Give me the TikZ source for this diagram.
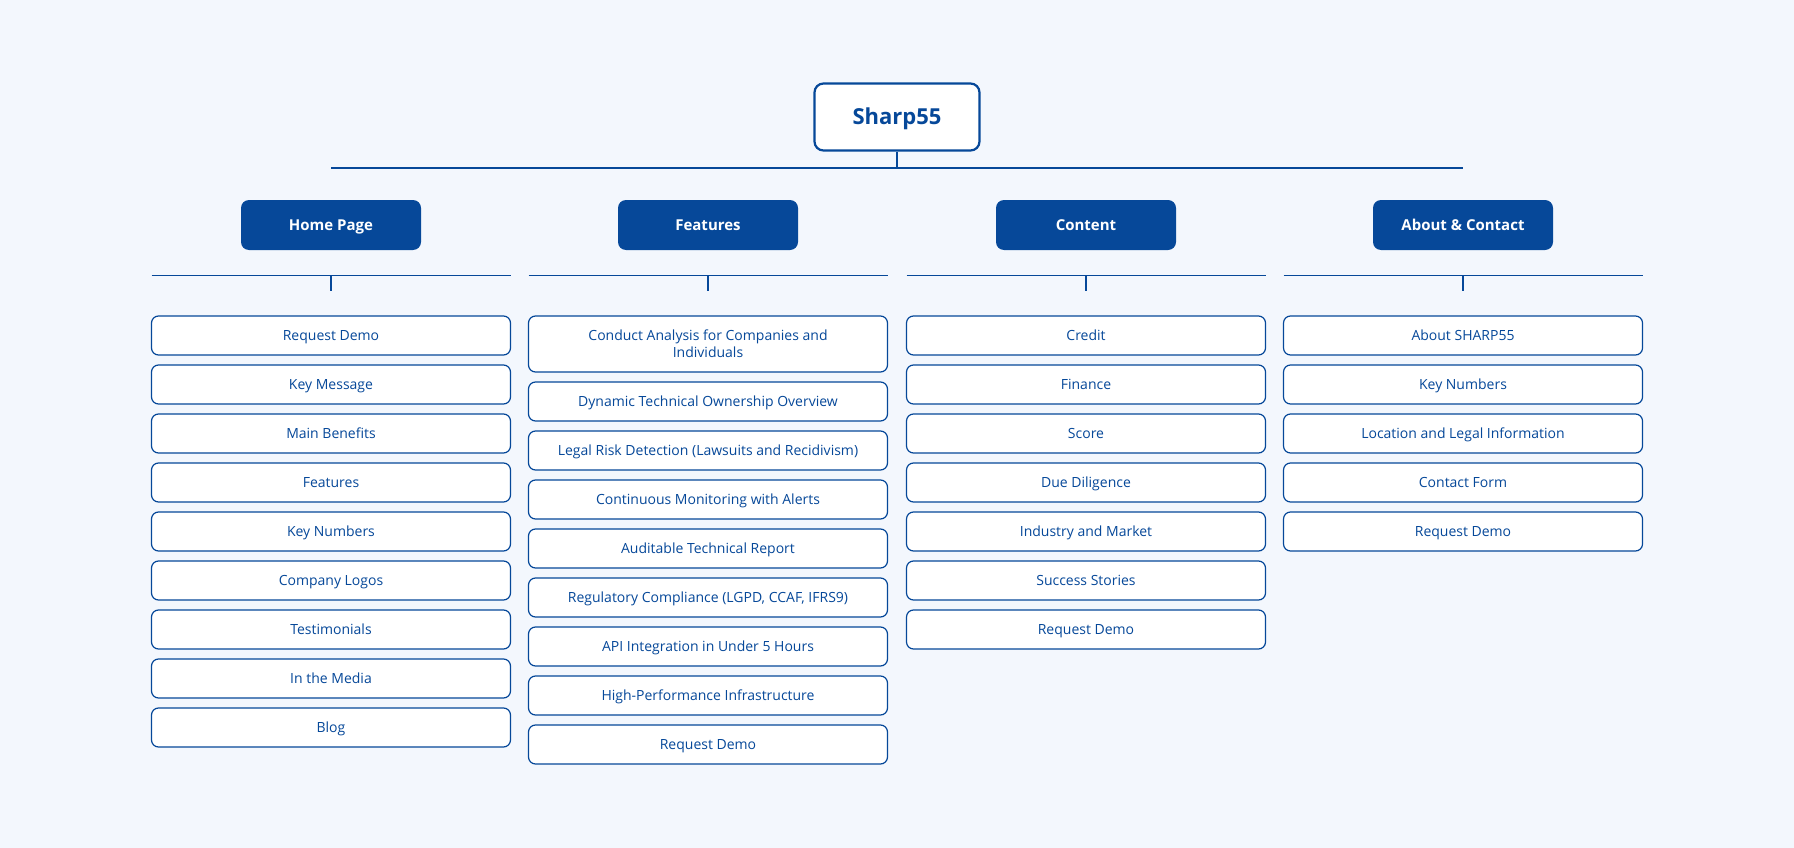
\documentclass[tikz,border=0pt]{standalone}
\usepackage{fontspec}
\setmainfont{Open Sans}
\usetikzlibrary{positioning}

\definecolor{navy}{HTML}{064899}
\definecolor{pagebg}{HTML}{F3F7FD}

\begin{document}
\begin{tikzpicture}[x=1pt,y=-1pt,node distance=10pt,
  root/.style={draw=navy,line width=2.2pt,fill=white,rounded corners=9pt,minimum width=165pt,minimum height=67pt,text height=16pt,text depth=0pt,font=\fontsize{22}{26}\selectfont\bfseries,text=navy},
  section/.style={fill=navy,rounded corners=8pt,minimum width=180pt,minimum height=50pt,text height=11pt,text depth=0pt,font=\fontsize{15}{18}\selectfont\bfseries,text=white},
  page/.style={draw=navy,line width=1.2pt,fill=white,rounded corners=7pt,minimum width=359pt,minimum height=39pt,inner sep=4pt,outer sep=0pt,text height=10pt,text depth=0pt,align=center,font=\fontsize{14}{17}\selectfont,text=navy},
  link/.style={draw=navy,line width=1.4pt}]

% Background
\fill[pagebg] (0,0) rectangle (1794,848);
\useasboundingbox (0,0) rectangle (1794,848);

% Root and sections
\node[root] (sharp) at (897,117) {Sharp55};
\node[section] (home) at (331,225) {Home Page};
\node[section] (feat) at (708,225) {Features};
\node[section] (cont) at (1086,225) {Content};
\node[section] (about) at (1463,225) {About \& Contact};

% Top bar
\coordinate (topL) at (331,168);
\coordinate (topR) at (1463,168);
\draw[link] (topL) -- (topR);
\draw[link] (sharp.south) -- (sharp.south |- topL);

% Home Page
\coordinate (home0) at (331,306);
\foreach \txt [count=\i, remember=\i as \j (initially 0)] in {Request Demo,Key Message,Main Benefits,Features,Key Numbers,Company Logos,Testimonials,In the Media,Blog}
  \node[page,below=of home\j] (home\i) {\txt};

% Features
\coordinate (feat0) at (708,306);
\node[page,minimum height=56pt,text height=,text depth=,below=of feat0] (feat1) {Conduct Analysis for Companies and\\Individuals};
\foreach \txt [count=\i from 2, remember=\i as \j (initially 1)] in {Dynamic Technical Ownership Overview,Legal Risk Detection (Lawsuits and Recidivism),Continuous Monitoring with Alerts,Auditable Technical Report,{Regulatory Compliance (LGPD, CCAF, IFRS9)},API Integration in Under 5 Hours,High-Performance Infrastructure,Request Demo}
  \node[page,below=of feat\j] (feat\i) {\txt};

% Content
\coordinate (cont0) at (1086,306);
\foreach \txt [count=\i, remember=\i as \j (initially 0)] in {Credit,Finance,Score,Due Diligence,Industry and Market,Success Stories,Request Demo}
  \node[page,below=of cont\j] (cont\i) {\txt};

% About & Contact
\coordinate (about0) at (1463,306);
\foreach \txt [count=\i, remember=\i as \j (initially 0)] in {About SHARP55,Key Numbers,Location and Legal Information,Contact Form,Request Demo}
  \node[page,below=of about\j] (about\i) {\txt};

% Bars under sections
\foreach \col in {home,feat,cont,about} {
  \coordinate (\col-bar) at ([yshift=-25.5pt]\col.south);
  \draw[link] (\col-bar -| \col1.west) -- (\col-bar -| \col1.east);
  \draw[link] (\col-bar) -- ++(0,15);
}

\end{tikzpicture}
\end{document}
